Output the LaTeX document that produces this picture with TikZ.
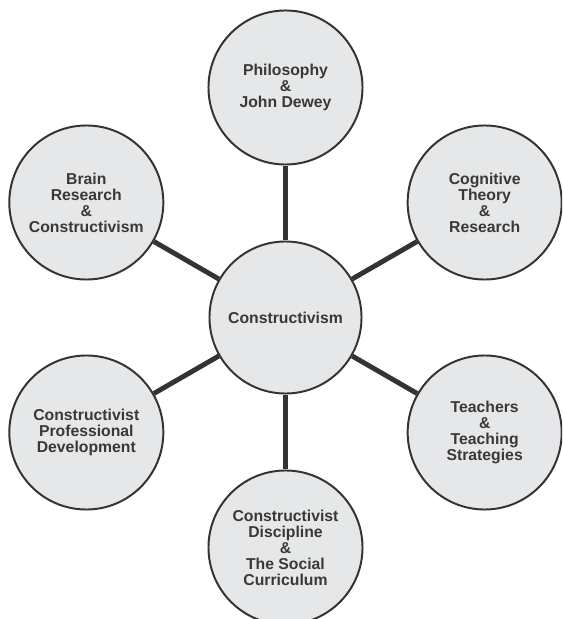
\documentclass[tikz,border=0pt]{standalone}
\usepackage{fontspec}
\setmainfont{Liberation Sans}
\usepackage{xcolor}
\usetikzlibrary{positioning}
\definecolor{Ink}{HTML}{333333}
\definecolor{Label}{HTML}{383838}
\definecolor{Disc}{HTML}{E6E7E8}

\tikzset{
  topic/.style={circle,draw=Ink,line width=1.4pt,fill=Disc,text=Label,
    minimum size=3.85cm,inner sep=0pt,align=center,
    font=\bfseries\fontsize{11.2}{11.4}\selectfont},
  spoke/.style={Ink,line width=3.5pt}
}

\begin{document}
\begin{tikzpicture}[x=0.025cm,y=0.025cm]
  \useasboundingbox (-285.5,-301.5) rectangle (276.5,317.5);
  \clip (-285.5,-301.5) rectangle (276.5,317.5);
  % hub
  \node[topic,minimum size=3.8cm] (core) at (0,0) {Constructivism};
  % the six themes round it
  \foreach \a/\n/\t in {
      90/phil/{Philosophy\\\&\\John Dewey},
      30/cogn/{Cognitive\\Theory\\\&\\Research},
      -30/teach/{Teachers\\\&\\Teaching\\Strategies},
      -90/disc/{Constructivist\\Discipline\\\&\\The Social\\Curriculum},
      210/prof/{Constructivist\\Professional\\Development},
      150/brain/{Brain\\Research\\\&\\Constructivism}}{
    \node[topic] (\n) at (\a:230) {\t};
    \draw[spoke] (core) -- (\n);
  }
\end{tikzpicture}
\end{document}
